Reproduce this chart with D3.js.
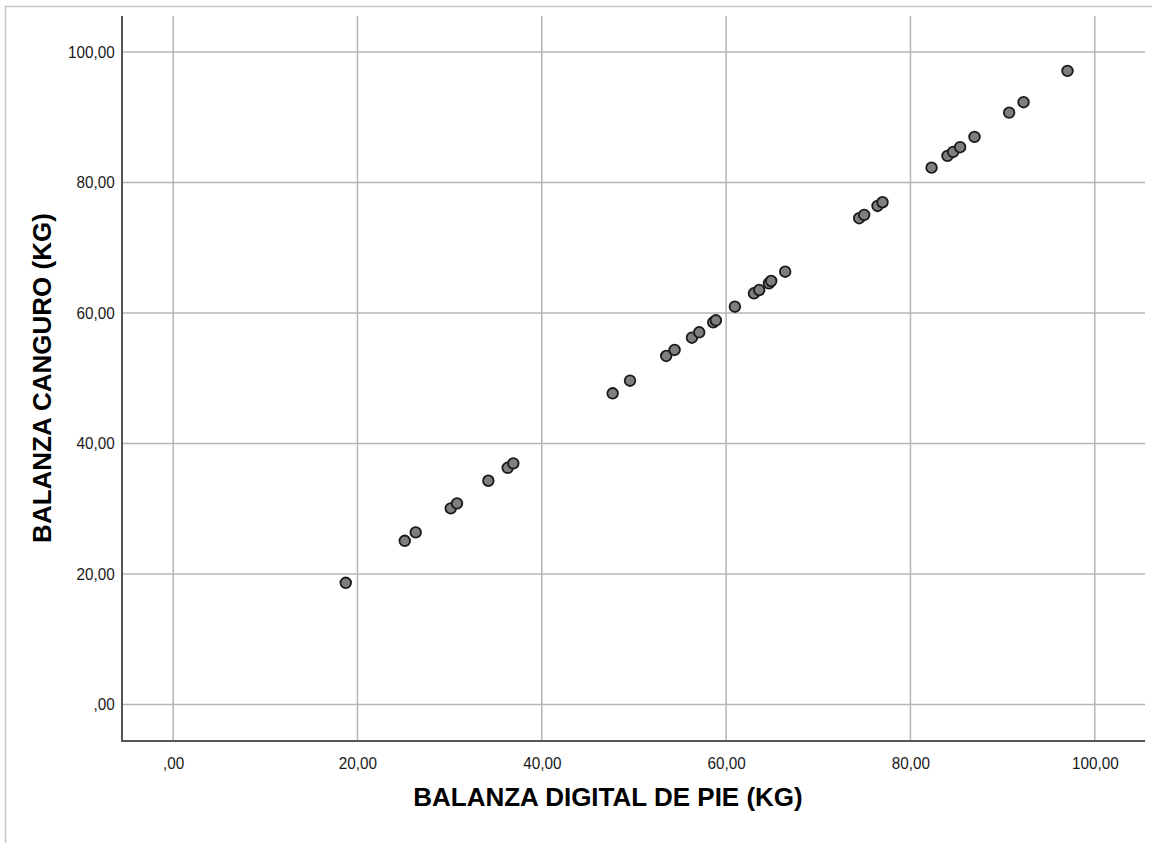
<!DOCTYPE html>
<html>
<head>
<meta charset="utf-8">
<script src="https://cdn.jsdelivr.net/npm/d3@7"></script>
<style>
  html, body { margin: 0; padding: 0; background: #fff; }
  svg { display: block; }
</style>
</head>
<body>
<svg id="chart" width="1152" height="843"></svg>
<script>
// Weight readings: digital floor scale (x) vs. kangaroo scale (y), kg
const pieKg = [18.73, 25.13, 26.32, 30.12, 30.80, 34.20, 36.30, 36.91,
  47.69, 49.57, 53.50, 54.41, 56.29, 57.08, 58.60, 58.89, 60.95,
  63.02, 63.59, 64.64, 64.89, 66.41, 74.44, 74.98, 76.43, 76.97,
  82.29, 84.02, 84.63, 85.39, 86.95, 90.71, 92.27, 97.04];
const canguroKg = [18.64, 25.08, 26.37, 30.05, 30.81, 34.28, 36.27, 36.95,
  47.68, 49.61, 53.40, 54.32, 56.20, 57.03, 58.56, 58.87, 60.95,
  63.01, 63.51, 64.54, 64.89, 66.32, 74.51, 75.01, 76.39, 76.96,
  82.26, 84.06, 84.67, 85.39, 86.97, 90.70, 92.29, 97.09];
const tickValues = [0, 20, 40, 60, 80, 100];
const xTitle = "BALANZA DIGITAL DE PIE (KG)";
const yTitle = "BALANZA CANGURO (KG)";

const svg = d3.select("#chart");
const plot = { left: 122, right: 1145, top: 16, bottom: 741 };

const x = d3.scaleLinear().domain([-5.55, 105.45]).range([plot.left, plot.right]);
const y = d3.scaleLinear().domain([-5.6, 105.5]).range([plot.bottom, plot.top]);

const fmt = d => d === 0 ? ",00" : d.toFixed(2).replace(".", ",");
const tickFont = "'Liberation Sans Narrow', 'Arial Narrow', 'Liberation Sans', Arial, sans-serif";

// Outer frame
svg.append("rect")
  .attr("x", 5.5).attr("y", 6.5)
  .attr("width", 1160).attr("height", 860)
  .attr("fill", "none").attr("stroke", "#c8c8c8").attr("stroke-width", 1.5);

// Gridlines
const grid = svg.append("g").attr("stroke", "#b4b4b4").attr("stroke-width", 1.5);
grid.selectAll("line.v").data(tickValues).join("line")
  .attr("class", "v")
  .attr("x1", d => x(d)).attr("x2", d => x(d))
  .attr("y1", plot.top).attr("y2", plot.bottom);
grid.selectAll("line.h").data(tickValues).join("line")
  .attr("class", "h")
  .attr("x1", plot.left).attr("x2", plot.right)
  .attr("y1", d => y(d)).attr("y2", d => y(d));

// Axes (labels slightly condensed)
const xAxis = svg.append("g")
  .attr("transform", `translate(0,${plot.bottom})`)
  .call(d3.axisBottom(x).tickValues(tickValues).tickFormat(fmt).tickSize(0).tickPadding(16));
const yAxis = svg.append("g")
  .attr("transform", `translate(${plot.left},0)`)
  .call(d3.axisLeft(y).tickValues(tickValues).tickFormat(fmt).tickSize(0).tickPadding(8));

[xAxis, yAxis].forEach(g => {
  g.select(".domain").remove();
  g.selectAll("text")
    .attr("fill", "#1a1a1a")
    .attr("transform", "scale(0.9,1)")
    .style("font-family", tickFont)
    .style("font-size", "17px");
});

svg.append("line")
  .attr("x1", plot.left).attr("x2", plot.left)
  .attr("y1", plot.top).attr("y2", plot.bottom)
  .attr("stroke", "#555").attr("stroke-width", 2);
svg.append("line")
  .attr("x1", plot.left - 1).attr("x2", plot.right)
  .attr("y1", plot.bottom).attr("y2", plot.bottom)
  .attr("stroke", "#555").attr("stroke-width", 2);

// Points
const pts = d3.zip(pieKg, canguroKg);
svg.append("g").selectAll("circle").data(pts).join("circle")
  .attr("cx", d => x(d[0]))
  .attr("cy", d => y(d[1]))
  .attr("r", 5.3)
  .attr("fill", "#7f7f7f")
  .attr("stroke", "#1a1a1a")
  .attr("stroke-width", 1.8);

// Axis titles
svg.append("text")
  .attr("x", 608).attr("y", 806)
  .attr("text-anchor", "middle")
  .style("font-family", "'Liberation Sans', Arial, sans-serif")
  .style("font-weight", "bold")
  .style("font-size", "26px")
  .attr("fill", "#000")
  .text(xTitle);

svg.append("text")
  .attr("transform", "translate(51,378) rotate(-90)")
  .attr("text-anchor", "middle")
  .style("font-family", "'Liberation Sans', Arial, sans-serif")
  .style("font-weight", "bold")
  .style("font-size", "26px")
  .attr("fill", "#000")
  .text(yTitle);
</script>
</body>
</html>
